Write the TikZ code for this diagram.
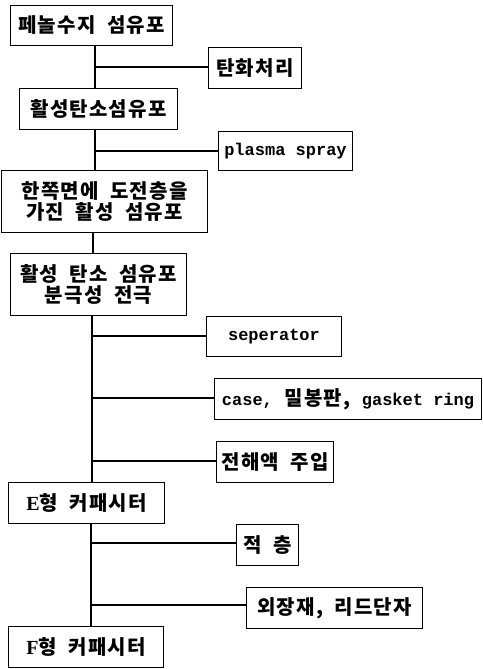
\documentclass[tikz,border=0pt]{standalone}
\usepackage{fontspec}
\setmainfont{Noto Sans CJK KR}[LetterSpace=6]
\newfontfamily\latmono{Liberation Mono}
\newfontfamily\latserif{Liberation Serif}
\newcommand{\lat}[1]{{\latmono\bfseries\fontsize{17}{20}\selectfont #1}}
\newcommand{\capletter}[1]{{\latserif\fontsize{20}{21}\selectfont #1}}
\begin{document}
\begin{tikzpicture}[x=1pt,y=-1pt,
  box/.style={draw, line width=1pt, anchor=north west, inner sep=0pt, align=center,
    font=\fontsize{20}{21}\selectfont\bfseries},
  link/.style={line width=1.2pt}]
\useasboundingbox (0,0) rectangle (482,669);
% main column
\node[box, minimum width=162, minimum height=40] (b1) at (10,5) {페놀수지\ \ 섬유포};
\node[box, minimum width=158, minimum height=41] (b2) at (19,88) {활성탄소섬유포};
\node[box, minimum width=206, minimum height=62] (b3) at (1,170) {한쪽면에\ \ 도전층을\\가진\ \ 활성\ \ 섬유포};
\node[box, minimum width=176, minimum height=62] (b4) at (10,253) {활성\ \ 탄소\ \ 섬유포\\분극성\ \ 전극};
\node[box, minimum width=156, minimum height=41] (b5) at (8,482) {\capletter{E}형\ \ 커패시터};
\node[box, minimum width=155, minimum height=41] (b6) at (8,626) {\capletter{F}형\ \ 커패시터};
% side steps
\node[box, minimum width=93, minimum height=41] (t1) at (208,47) {탄화처리};
\node[box, minimum width=134, minimum height=39] (t2) at (218,131) {\lat{plasma spray}};
\node[box, minimum width=135, minimum height=40] (t3) at (206,316) {\lat{seperator}};
\node[box, minimum width=267, minimum height=41] (t4) at (214,378) {\lat{case,}\ \ 밀봉판,\ \ \lat{gasket ring}};
\node[box, minimum width=117, minimum height=41] (t5) at (216,441) {전해액\ \ 주입};
\node[box, minimum width=62, minimum height=41] (t6) at (236,524) {적\ \ 층};
\node[box, minimum width=176, minimum height=41] (t7) at (246,587) {외장재,\ \ 리드단자};
% junctions
\coordinate (j1) at (95,67);
\coordinate (j2) at (95,151);
\coordinate (s3) at (93,0);
\coordinate (j3) at (92,336);
\coordinate (j4) at (92,398);
\coordinate (j5) at (92,461);
\coordinate (j6) at (91,543);
\coordinate (j7) at (91,605);
% spine
\draw[link] (b1.south -| j1) -- (b2.north -| j1);
\draw[link] (b2.south -| j2) -- (b3.north -| j2);
\draw[link] (b3.south -| s3) -- (b4.north -| s3);
\draw[link] (b4.south -| j3) -- (b5.north -| j3);
\draw[link] (b5.south -| j6) -- (b6.north -| j6);
% branches
\draw[link] (j1) -- (t1.west |- j1);
\draw[link] (j2) -- (t2.west |- j2);
\draw[link] (j3) -- (t3.west |- j3);
\draw[link] (j4) -- (t4.west |- j4);
\draw[link] (j5) -- (t5.west |- j5);
\draw[link] (j6) -- (t6.west |- j6);
\draw[link] (j7) -- (t7.west |- j7);
\end{tikzpicture}
\end{document}
